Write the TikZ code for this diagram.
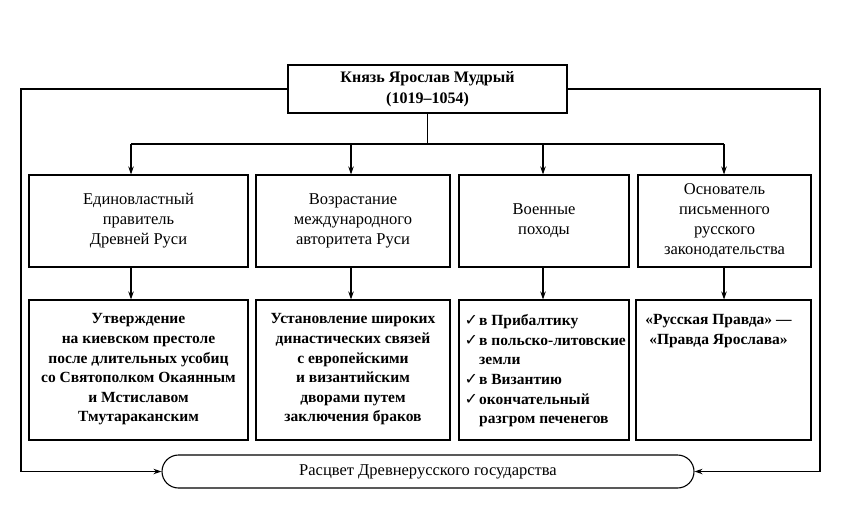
\documentclass[tikz,border=0pt]{standalone}
\usepackage{fontspec}
\setmainfont{Liberation Serif}
\newfontfamily\djv{DejaVu Sans}
\usetikzlibrary{arrows.meta}
\newcommand\ckm{\makebox[14.5pt][l]{\djv\bfseries\fontsize{16}{20}\selectfont ✓}}
\begin{document}
\begin{tikzpicture}[x=1pt,y=-1pt,
  ln/.style={line width=1.1pt},
  arr/.style={ln,-{Stealth[length=8pt,width=5.5pt]}},
  box/.style={draw,ln,inner sep=0pt},
  tone/.style={font=\fontsize{16.5}{20}\selectfont, align=center, inner sep=0pt},
  ttwo/.style={font=\fontsize{15.5}{19.6}\selectfont\bfseries, align=center, inner sep=0pt},
  ttop/.style={font=\fontsize{16}{21}\selectfont\bfseries, align=center, inner sep=0pt}]
\useasboundingbox (0,0) rectangle (848,507);
% top
\node[box, ttop, minimum width=279pt, minimum height=48pt] (top) at (427.5,89) {Князь Ярослав Мудрый\\(1019–1054)};
% row 1
\node[box, tone, minimum width=219pt, minimum height=92pt] (b1) at (138.5,221) {Единовластный\\правитель\\Древней Руси};
\node[box, tone, minimum width=194pt, minimum height=92pt] (b2) at (353,221) {Возрастание\\международного\\авторитета Руси};
\node[box, tone, minimum width=170pt, minimum height=92pt] (b3) at (544,221) {Военные\\походы};
\node[box, tone, minimum width=173pt, minimum height=92pt] (b4) at (724.5,221) {Основатель\\письменного\\русского\\законодательства};
% row 2
\node[box, minimum width=219pt, minimum height=140pt] (c1) at (138.5,370) {};
\node[box, minimum width=194pt, minimum height=140pt] (c2) at (353,370) {};
\node[box, minimum width=170pt, minimum height=140pt] (c3) at (544,370) {};
\node[box, minimum width=175pt, minimum height=140pt] (c4) at (723.5,370) {};
\node[ttwo, anchor=north] (d1) at ([yshift=-14pt]c1.north) {Утверждение\\на киевском престоле\\после длительных усобиц\\со Святополком Окаянным\\и Мстиславом\\Тмутараканским};
\node[ttwo, anchor=north] (d2) at ([yshift=-14pt]c2.north) {Установление широких\\династических связей\\с европейскими\\и византийским\\дворами путем\\заключения браков};
\node[ttwo, anchor=north west, align=left] (d3) at ([xshift=6pt,yshift=-15pt]c3.north west) {\ckm в Прибалтику\\\ckm в польско-литовские\\\hspace*{14.5pt}земли\\\ckm в Византию\\\ckm окончательный\\\hspace*{14.5pt}разгром печенегов};
\node[ttwo, anchor=north] (d4) at ([xshift=-5pt,yshift=-15pt]c4.north) {«Русская Правда» —\\«Правда Ярослава»};
% bottom
\node[box, tone, rounded corners=16.5pt, minimum width=532pt, minimum height=33pt] (bot) at (428,471.5) {Расцвет Древнерусского государства};
% connectors
\coordinate (lt) at (21,89);
\coordinate (lb) at (21,471.5);
\coordinate (rt) at (820,89);
\coordinate (rb) at (820,471.5);
\draw[arr] (top.west) -- (lt) -- (lb) -- (bot.west);
\draw[arr] (top.east) -- (rt) -- (rb) -- (bot.east);
\coordinate (stem) at (427.5,144);
\coordinate (a1) at (131,144);
\coordinate (a2) at (351,144);
\coordinate (a3) at (543,144);
\coordinate (a4) at (724,144);
\draw[ln] (top.south) -- (stem);
\draw[ln] (a1) -- (a4);
\draw[arr] (a1) -- (a1 |- b1.north);
\draw[arr] (a2) -- (a2 |- b2.north);
\draw[arr] (a3) -- (a3 |- b3.north);
\draw[arr] (a4) -- (a4 |- b4.north);
\draw[arr] (a1 |- b1.south) -- (a1 |- c1.north);
\draw[arr] (a2 |- b2.south) -- (a2 |- c2.north);
\draw[arr] (a3 |- b3.south) -- (a3 |- c3.north);
\draw[arr] (a4 |- b4.south) -- (a4 |- c4.north);
\end{tikzpicture}
\end{document}
